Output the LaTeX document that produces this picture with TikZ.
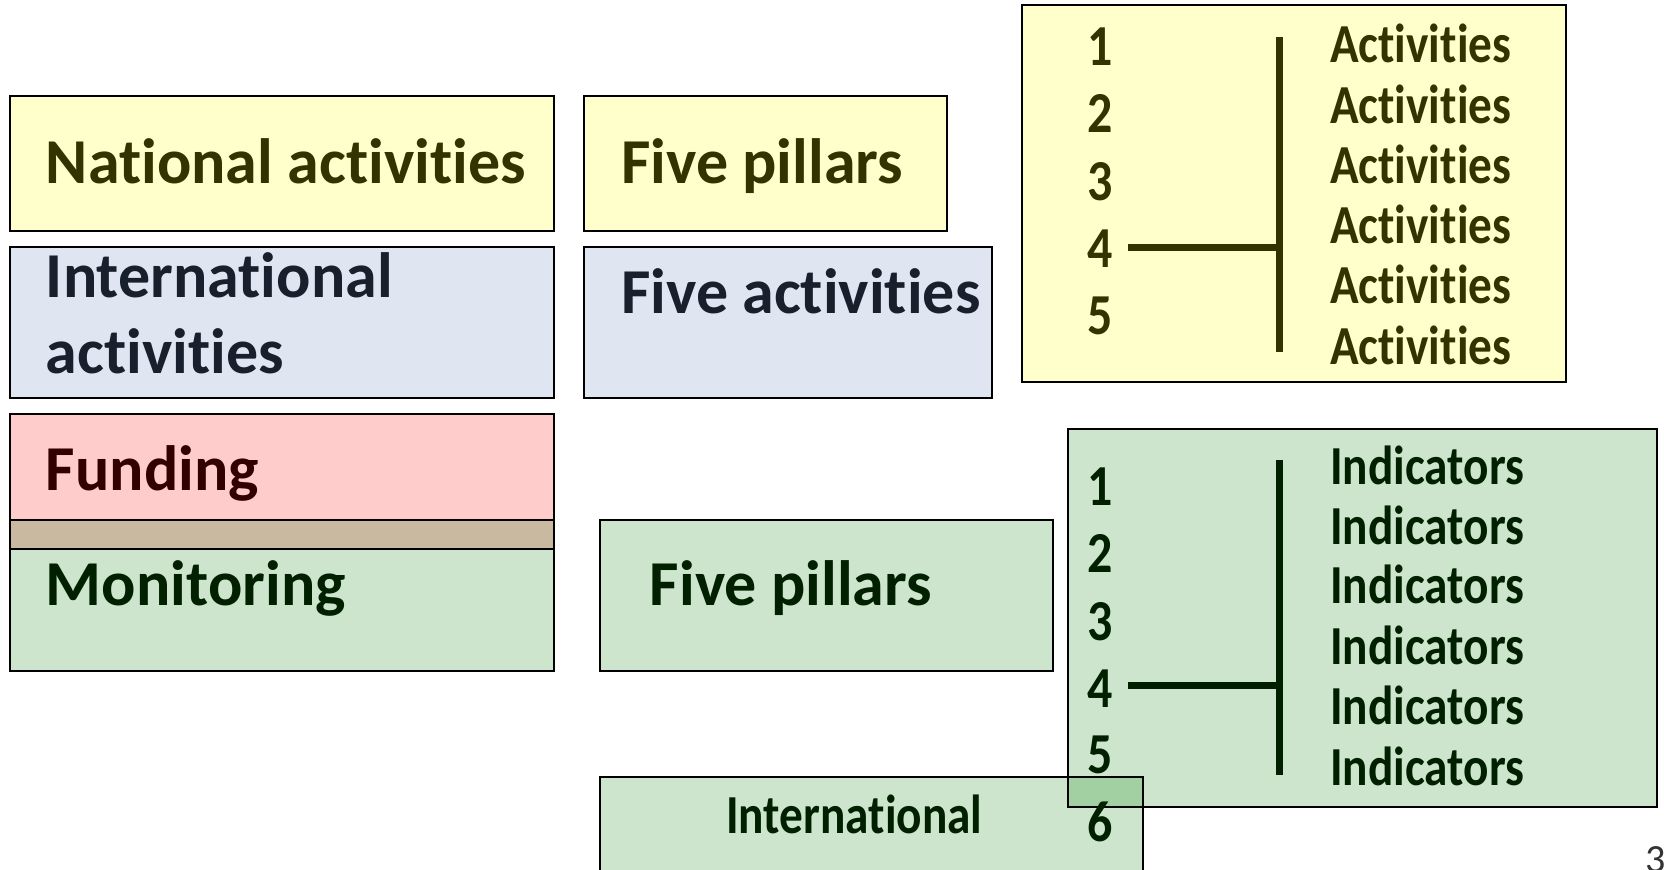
\documentclass[tikz,border=0pt]{standalone}
\usepackage{fontspec}
\setmainfont{Carlito}[Ligatures=NoCommon]
\newfontfamily\narrowfont{Carlito}[FakeStretch=0.86,Ligatures=NoCommon]

\definecolor{paleYellow}{HTML}{FFFFCC}
\definecolor{paleBlue}{HTML}{DFE6F1}
\definecolor{palePink}{HTML}{FFCCCC}
\definecolor{paleTan}{HTML}{C9B9A0}
\definecolor{paleGreen}{HTML}{CDE4CD}
\definecolor{deepGreen}{HTML}{A3D0A3}
\definecolor{oliveInk}{HTML}{333300}
\definecolor{navyInk}{HTML}{18202E}
\definecolor{maroonInk}{HTML}{330000}
\definecolor{greenInk}{HTML}{002000}

\begin{document}
\begin{tikzpicture}[x=0.5pt,y=-0.5pt,
  panel/.style={draw=black,line width=1pt},
  bigtext/.style={anchor=base west,inner sep=0pt,
    font=\bfseries\fontsize{32}{38}\selectfont},
  smalltext/.style={anchor=base west,inner sep=0pt,
    font=\narrowfont\bfseries\fontsize{27.5}{30}\selectfont},
  numtext/.style={anchor=base,inner sep=0pt,
    font=\narrowfont\bfseries\fontsize{29}{30}\selectfont},
  bar/.style={line width=3.6pt}]

\useasboundingbox (0,0) rectangle (1664,869);
\fill[white] (0,0) rectangle (1664,869);

% left column
\draw[panel,fill=paleYellow] (9.6,95.5) rectangle (554,231.3);
\draw[panel,fill=paleBlue]   (9.6,247.3) rectangle (554,398);
\draw[panel,fill=palePink]   (9.6,413.9) rectangle (554,520);
\draw[panel,fill=paleTan]    (9.6,520) rectangle (554,548.6);
\draw[panel,fill=paleGreen]  (9.6,548.6) rectangle (554,670.7);

\node[bigtext,text=oliveInk]  (national) at (45.6,183.6) {National activities};
\node[bigtext,text=navyInk]   (intlA) at (45.6,297) {International};
\node[bigtext,text=navyInk]   (intlB) at (45.6,373.5) {activities};
\node[bigtext,text=maroonInk] (funding) at (45.6,490) {Funding};
\node[bigtext,text=greenInk]  (monitoring) at (45.6,605) {Monitoring};

% middle column
\draw[panel,fill=paleYellow] (583.7,95.5) rectangle (946.6,231.3);
\draw[panel,fill=paleBlue]   (583.7,247.3) rectangle (992.2,398);
\draw[panel,fill=paleGreen]  (599.6,520) rectangle (1052.7,670.7);

\node[bigtext,text=oliveInk] (pillarsY) at (620.8,183.6) {Five pillars};
\node[bigtext,text=navyInk]  (fiveAct) at (620.8,313) {Five activities};
\node[bigtext,text=greenInk] (pillarsG) at (649.5,605) {Five pillars};

% activities panel
\draw[panel,fill=paleYellow] (1022,5.3) rectangle (1566.3,382);
\foreach \n/\y in {1/65.8,2/132.6,3/200.6,4/267.4,5/334.3}
  \node[numtext,text=oliveInk] (act\n) at (1100.5,\y) {\n};
\foreach \k/\y in {1/62.6,2/123,3/183.6,4/243,5/303.5,6/364}
  \node[smalltext,text=oliveInk] (actText\k) at (1329.7,\y) {Activities};
\coordinate (actTop)  at (1279.8,37);
\coordinate (actBot)  at (1279.8,352.3);
\coordinate (actJoin) at (1279.8,247.3);
\coordinate (actStub) at (1128,247.3);
\draw[bar,oliveInk] (actTop) -- (actBot);
\draw[bar,oliveInk] (actStub) -- (actJoin);

% indicators panel and the box below it
\draw[panel,fill=paleGreen] (1067.6,428.7) rectangle (1656.5,806.5);
\draw[panel,fill=paleGreen] (599.6,776.8) rectangle (1143,890);
\fill[deepGreen] (1067.6,776.8) rectangle (1143,806.5);
\draw[panel] (1067.6,428.7) rectangle (1656.5,806.5);
\draw[panel] (599.6,776.8) rectangle (1143,890);

\node[smalltext,text=greenInk] (intlBottom) at (725.9,833) {International};

\foreach \n/\y in {1/505,2/572,3/640,4/707,5/773.6,6/841.5}
  \node[numtext,text=greenInk] (ind\n) at (1100.5,\y) {\n};
\foreach \k/\y in {1/484,2/544.4,3/603.8,4/664.3,5/724.8,6/785.3}
  \node[smalltext,text=greenInk] (indText\k) at (1329.7,\y) {Indicators};
\coordinate (indTop)  at (1279.8,459.5);
\coordinate (indBot)  at (1279.8,774.7);
\coordinate (indJoin) at (1279.8,685.5);
\coordinate (indStub) at (1128,685.5);
\draw[bar,greenInk] (indTop) -- (indBot);
\draw[bar,greenInk] (indStub) -- (indJoin);

% slide number, running off the lower edge of the slide
\node[anchor=base west,inner sep=0pt,font=\fontsize{20}{24}\selectfont,text=black!80]
  (pageNo) at (1645,872) {3};
\end{tikzpicture}
\end{document}
